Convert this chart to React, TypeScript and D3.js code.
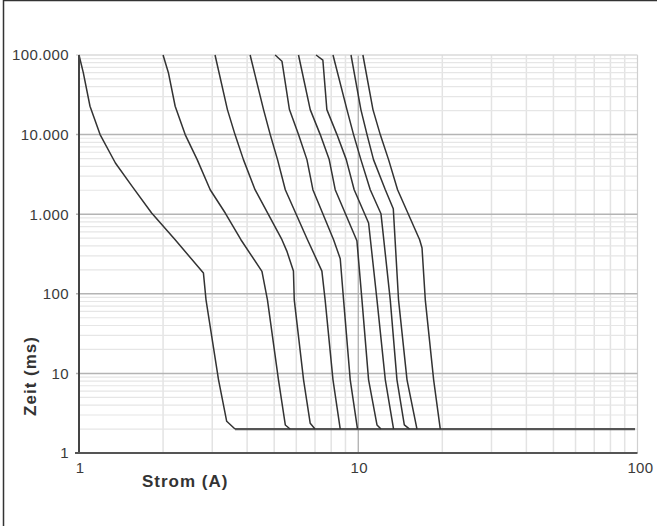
import * as d3 from 'd3'

type Pt = [number, number]

// Strom (A), Zeit (ms)
const curve1: Pt[] = [[1, 100000], [1.036, 60000], [1.095, 22700], [1.19, 10000], [1.35, 4400], [1.55, 2240], [1.82, 1035], [2.21, 478], [2.79, 182], [2.85, 84], [3.16, 8.3], [3.38, 2.5], [3.62, 2]]
const curve2: Pt[] = [[2.0, 100000], [2.09, 60000], [2.21, 22700], [2.4, 10000], [2.65, 4850], [2.95, 2030], [3.34, 1035], [3.8, 478], [4.52, 191], [4.73, 84], [5.18, 8.3], [5.48, 2.25], [5.7, 2]]
const curve3: Pt[] = [[3.07, 100000], [3.4, 20600], [3.62, 10000], [3.88, 4850], [4.27, 2030], [5.33, 478], [5.55, 344], [5.86, 193], [5.9, 84], [6.37, 8.3], [6.73, 2.36], [7.0, 2]]
const curve4: Pt[] = [[4.1, 100000], [4.58, 20600], [4.84, 10000], [5.14, 4850], [5.48, 2030], [6.58, 478], [7.41, 193], [7.61, 84], [8.12, 8.3], [8.62, 2]]
const curve5: Pt[] = [[5.04, 100000], [5.33, 83600], [5.67, 20600], [6.11, 10000], [6.55, 4850], [6.88, 2030], [8.16, 478], [8.62, 276], [8.86, 84], [9.36, 8.3], [9.94, 2]]
const curve6: Pt[] = [[6.11, 100000], [6.73, 20600], [7.31, 10000], [7.87, 4850], [8.27, 2030], [9.89, 464], [10.31, 84], [10.89, 8.3], [11.67, 2.25], [12.06, 2]]
const curve7: Pt[] = [[7.06, 100000], [7.47, 86000], [7.72, 20600], [8.39, 10000], [9.06, 4850], [9.67, 2030], [10.89, 775], [11.67, 84], [12.5, 8.3], [13.38, 2]]
const curve8: Pt[] = [[8.12, 100000], [9.11, 20600], [9.62, 10000], [10.22, 4850], [11.04, 2030], [12.06, 1015], [13.02, 84], [13.76, 8.3], [14.62, 2.25], [15.27, 2]]
const curve9: Pt[] = [[9.42, 100000], [10.22, 20600], [10.75, 10000], [11.34, 4850], [12.5, 2030], [13.35, 1170], [13.94, 84], [14.95, 8.3], [16.23, 2]]
const curve10: Pt[] = [[10.39, 100000], [11.29, 20600], [11.99, 10000], [12.84, 4850], [13.83, 2030], [16.59, 478], [16.92, 376], [17.38, 84], [18.62, 8.3], [19.67, 2]]
const floorLine: Pt[] = [[3.62, 2], [98, 2]]

const curves = [curve1, curve2, curve3, curve4, curve5, curve6, curve7, curve8, curve9, curve10]

const xTicks = [1, 10, 100]
const xTickLabels = ['1', '10', '100']
const yTicks = [1, 10, 100, 1000, 10000, 100000]
const yTickLabels = ['1', '10', '100', '1.000', '10.000', '100.000']
const xTitle = 'Strom (A)'
const yTitle = 'Zeit (ms)'

const W = 657
const H = 526
const font = 'Liberation Sans, Arial, sans-serif'

const x = d3.scaleLog().domain([1, 100]).range([79, 637.5])
const y = d3.scaleLog().domain([1, 100000]).range([453, 55])

const line = d3
  .line<Pt>()
  .x((d) => x(d[0]))
  .y((d) => y(d[1]))

const isDecade = (v: number) => Math.abs(Math.log10(v) - Math.round(Math.log10(v))) < 1e-9

export default function App() {
  const [x0, x1] = x.range()
  const [y0, y1] = y.range()
  return (
    <svg width={W} height={H} style={{ position: 'absolute', left: 0, top: 0, background: '#fff' }}>
      <path d={`M3.5,${H}V0.5H${W}`} fill="none" stroke="#333" strokeWidth={1.5} />
      {/* minor grid */}
      {x.ticks().filter((v) => !isDecade(v)).map((v) => (
        <line key={'vx' + v} x1={x(v)} x2={x(v)} y1={y1} y2={y0} stroke="#e3e3e3" strokeWidth={1.5} />
      ))}
      {y.ticks().filter((v) => !isDecade(v)).map((v) => (
        <line key={'hy' + v} x1={x0} x2={x1} y1={y(v)} y2={y(v)} stroke="#e6e6e6" strokeWidth={1.2} />
      ))}
      {/* major grid */}
      {xTicks.slice(1).map((v) => (
        <line key={'VX' + v} x1={x(v)} x2={x(v)} y1={y1} y2={y0} stroke={v === 100 ? '#d0d0d0' : '#a8a8a8'} strokeWidth={1.2} />
      ))}
      {yTicks.slice(1).map((v) => (
        <line key={'HY' + v} x1={x0 - 3} x2={x1} y1={y(v)} y2={y(v)} stroke={v === 100000 ? '#dadada' : '#b4b4b4'} strokeWidth={1.5} />
      ))}
      {/* curves */}
      <path d={line(floorLine) || ''} fill="none" stroke="#555" strokeWidth={2.2} />
      {curves.map((c, i) => (
        <path key={i} d={line(c) || ''} fill="none" stroke="#333" strokeWidth={1.5} strokeLinejoin="round" />
      ))}
      {/* axes */}
      <line x1={x0} x2={x0} y1={y1} y2={y0 + 1} stroke="#444" strokeWidth={2} />
      <line x1={x0 - 4} x2={x1} y1={y0} y2={y0} stroke="#555" strokeWidth={2} />
      {yTicks.map((v, i) => (
        <text key={'yl' + v} x={69} y={y(v)} dy="0.36em" textAnchor="end" fontFamily={font} fontSize={15} letterSpacing={0.4} fill="#3a3a3a">
          {yTickLabels[i]}
        </text>
      ))}
      {xTicks.map((v, i) => (
        <text key={'xl' + v} x={x(v) + (i === 2 ? 3 : 1)} y={472.5} textAnchor="middle" fontFamily={font} fontSize={15} letterSpacing={0.4} fill="#3a3a3a">
          {xTickLabels[i]}
        </text>
      ))}
      <text x={142} y={487} fontFamily={font} fontSize={17} fontWeight="bold" letterSpacing={1} fill="#333">
        {xTitle}
      </text>
      <text transform="translate(36,376) rotate(-90)" textAnchor="middle" fontFamily={font} fontSize={17} fontWeight="bold" letterSpacing={1} fill="#333">
        {yTitle}
      </text>
    </svg>
  )
}
